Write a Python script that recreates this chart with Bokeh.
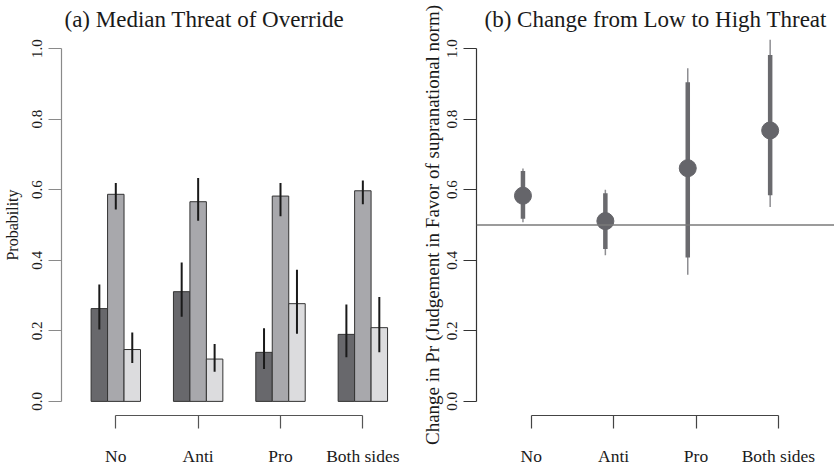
from bokeh.plotting import figure
from bokeh.layouts import row
from bokeh.models import (LinearAxis, FixedTicker, Range1d, Title, Span,
                          PrintfTickFormatter, ColumnDataSource)
from bokeh.embed import file_html
from bokeh.resources import INLINE

# ---- data -------------------------------------------------------------
categories = ["No", "Anti", "Pro", "Both sides"]
cat_pos = [1, 2, 3, 4]

# (a) predicted probabilities for the three outcomes, with interval bounds
prob_dark = [0.263, 0.311, 0.139, 0.190]
prob_dark_lo = [0.204, 0.240, 0.092, 0.125]
prob_dark_hi = [0.331, 0.394, 0.207, 0.275]

prob_mid = [0.587, 0.566, 0.582, 0.597]
prob_mid_lo = [0.544, 0.512, 0.525, 0.559]
prob_mid_hi = [0.619, 0.633, 0.619, 0.626]

prob_light = [0.147, 0.120, 0.277, 0.209]
prob_light_lo = [0.109, 0.084, 0.192, 0.139]
prob_light_hi = [0.195, 0.163, 0.373, 0.296]

# (b) change from low to high threat: estimate, inner and outer intervals
change_est = [0.583, 0.511, 0.661, 0.768]
change_lo_inner = [0.518, 0.432, 0.408, 0.584]
change_hi_inner = [0.653, 0.590, 0.905, 0.982]
change_lo_outer = [0.508, 0.414, 0.359, 0.551]
change_hi_outer = [0.660, 0.600, 0.944, 1.025]
reference_level = 0.5

y_ticks = [0.0, 0.2, 0.4, 0.6, 0.8, 1.0]

# ---- styling ----------------------------------------------------------
SERIF = "Liberation Serif"
H = 471
W1 = 405
W2 = 834 - W1
TOP = 34
BOTTOM = 56
BAR_W = 0.2
POINT_SHIFT = -0.1
label_map = {p: c for p, c in zip(cat_pos, categories)}


def style_title(p, text, offset):
    p.title = Title(text=text, align="left", offset=offset,
                    text_font=SERIF, text_font_size="23px",
                    text_font_style="normal", text_color="#1a1a1a",
                    standoff=6)


def category_axis(color):
    return LinearAxis(
        ticker=FixedTicker(ticks=cat_pos), bounds=(cat_pos[0], cat_pos[-1]),
        major_label_overrides=label_map,
        major_tick_out=13, major_tick_in=0,
        minor_tick_line_color=None,
        axis_line_color=color, major_tick_line_color=color,
        axis_line_width=1.2, major_tick_line_width=1.2,
        major_label_text_font=SERIF, major_label_text_font_size="17.5px",
        major_label_text_color="#1a1a1a", major_label_standoff=17)


def value_axis(color, **kw):
    return LinearAxis(
        ticker=FixedTicker(ticks=y_ticks), bounds=(0, 1),
        formatter=PrintfTickFormatter(format="%.1f"),
        major_tick_out=13, major_tick_in=0,
        minor_tick_line_color=None,
        axis_line_color=color, major_tick_line_color=color,
        axis_line_width=1.2, major_tick_line_width=1.2,
        major_label_orientation="vertical",
        major_label_text_font=SERIF, major_label_text_font_size="15px",
        major_label_text_color="#1a1a1a", major_label_standoff=6, **kw)


# ---- panel (a): grouped bars ----------------------------------------
px_a = 82.35
xa0 = 1 - 54.3 / px_a
xa1 = xa0 + (W1 - 61) / px_a
p1 = figure(width=W1, height=H, output_backend="svg", toolbar_location=None,
            x_range=Range1d(xa0, xa1), y_range=Range1d(-0.04, 1.04),
            x_axis_type=None, y_axis_type=None,
            min_border_left=61, min_border_right=0,
            min_border_top=TOP, min_border_bottom=BOTTOM)
p1.outline_line_color = None
p1.grid.visible = False
style_title(p1, "(a) Median Threat of Override", 3)

series = [
    (prob_dark, prob_dark_lo, prob_dark_hi, -BAR_W, "#68686c"),
    (prob_mid, prob_mid_lo, prob_mid_hi, 0.0, "#a8a8ac"),
    (prob_light, prob_light_lo, prob_light_hi, BAR_W, "#dcdcde"),
]
for vals, lo, hi, off, col in series:
    xs = [c + off for c in cat_pos]
    src = ColumnDataSource(dict(x=xs, top=vals, lo=lo, hi=hi))
    p1.vbar(x="x", top="top", bottom=0, width=BAR_W, source=src,
            fill_color=col, line_color="#333333", line_width=1)
    p1.segment(x0="x", y0="lo", x1="x", y1="hi", source=src,
               line_color="#1a1a1a", line_width=2)

p1.add_layout(value_axis("#8a8a8a", axis_label="Probability",
                         axis_label_text_font=SERIF,
                         axis_label_text_font_style="normal",
                         axis_label_text_font_size="16px",
                         axis_label_text_color="#1a1a1a",
                         axis_label_standoff=9), "left")
p1.add_layout(category_axis("#555555"), "below")

# ---- panel (b): change estimates with intervals ---------------------
px_b = 82.4
frame_left_b = 476
xb0 = 1 - (530.7 - frame_left_b) / px_b
xb1 = xb0 + (834 - frame_left_b) / px_b
p2 = figure(width=W2, height=H, output_backend="svg", toolbar_location=None,
            x_range=Range1d(xb0, xb1), y_range=Range1d(-0.04, 1.04),
            x_axis_type=None, y_axis_type=None,
            min_border_left=frame_left_b - W1, min_border_right=0,
            min_border_top=TOP, min_border_bottom=BOTTOM)
p2.outline_line_color = None
p2.grid.visible = False
style_title(p2, "(b) Change from Low to High Threat", 8)

p2.add_layout(Span(location=reference_level, dimension="width",
                   line_color="#7a7a7a", line_width=1.5))

pts = ColumnDataSource(dict(
    x=[c + POINT_SHIFT for c in cat_pos], y=change_est,
    lo_in=change_lo_inner, hi_in=change_hi_inner,
    lo_out=change_lo_outer, hi_out=change_hi_outer))
p2.segment(x0="x", y0="lo_out", x1="x", y1="hi_out", source=pts,
           line_color="#8e8e92", line_width=1.5)
p2.segment(x0="x", y0="lo_in", x1="x", y1="hi_in", source=pts,
           line_color="#6a6a6e", line_width=4.5)
p2.scatter(x="x", y="y", source=pts, size=17,
           fill_color="#65656a", line_color="#65656a")

p2.add_layout(value_axis("#333333"), "left")
p2.add_layout(Title(text="Change in Pr (Judgement in Favor of supranational norm)",
                    align="center", offset=-12, text_font=SERIF,
                    text_font_size="19px", text_font_style="normal",
                    text_color="#1a1a1a", standoff=3), "left")
p2.add_layout(category_axis("#444444"), "below")

layout = row(p1, p2)
open("out.html", "w").write(file_html(layout, INLINE))
